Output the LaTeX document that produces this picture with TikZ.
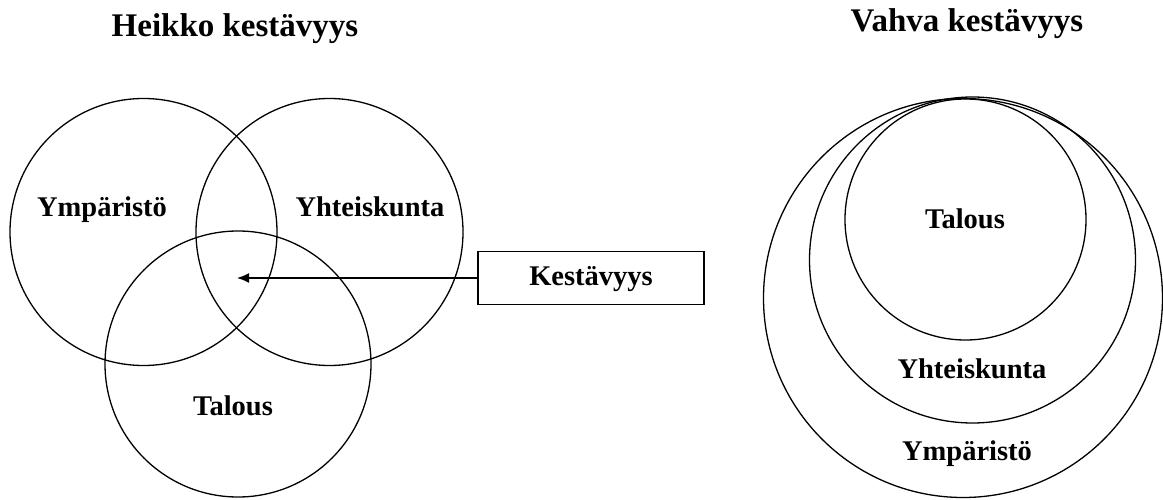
\documentclass[tikz,border=0pt]{standalone}
\usepackage{fontspec}
\setmainfont{Liberation Serif}
\usetikzlibrary{arrows.meta}
\begin{document}
\begin{tikzpicture}[x=1pt,y=1pt,
  ring/.style={draw=black,line width=1.3pt,circle,inner sep=0pt,outer sep=0pt,minimum size=#1},
  lbl/.style={anchor=base,inner sep=0pt,font=\fontsize{28.5}{31}\selectfont\bfseries},
  ttl/.style={anchor=base,inner sep=0pt,font=\fontsize{33}{36}\selectfont\bfseries},
  boxn/.style={draw=black,line width=1.6pt,minimum width=226pt,minimum height=53pt,inner sep=0pt},
  arr/.style={line width=1.6pt,-{Latex[length=12pt,width=10pt]}}]
\useasboundingbox (0,0) rectangle (1163,499);
% titles
\node[ttl] (t1) at (235,462) {Heikko kestävyys};
\node[ttl] (t2) at (967,467) {Vahva kestävyys};
% weak sustainability
\node[ring=267pt] (cy) at (143.5,267) {};
\node[ring=267pt] (ch) at (329.5,267) {};
\node[ring=266pt] (ct) at (238,135) {};
\node[lbl] (ly) at (102,282) {Ympäristö};
\node[lbl] (lh) at (370,282) {Yhteiskunta};
\node[lbl] (lt) at (233,84) {Talous};
% box and arrow
\node[boxn] (box) at (591,221) {};
\node[lbl] (lk) at (591,214) {Kestävyys};
\coordinate (tip) at (237,221);
\draw[arr] (box.west) -- (tip);
% strong sustainability
\node[ring=399pt] (ro) at (963,201) {};
\node[ring=326pt] (rm) at (972.5,239) {};
\node[ring=241pt] (ri) at (965.5,279.5) {};
\node[lbl] (rt) at (965,270) {Talous};
\node[lbl] (rh) at (972,121) {Yhteiskunta};
\node[lbl] (ry) at (967,39) {Ympäristö};
\end{tikzpicture}
\end{document}
